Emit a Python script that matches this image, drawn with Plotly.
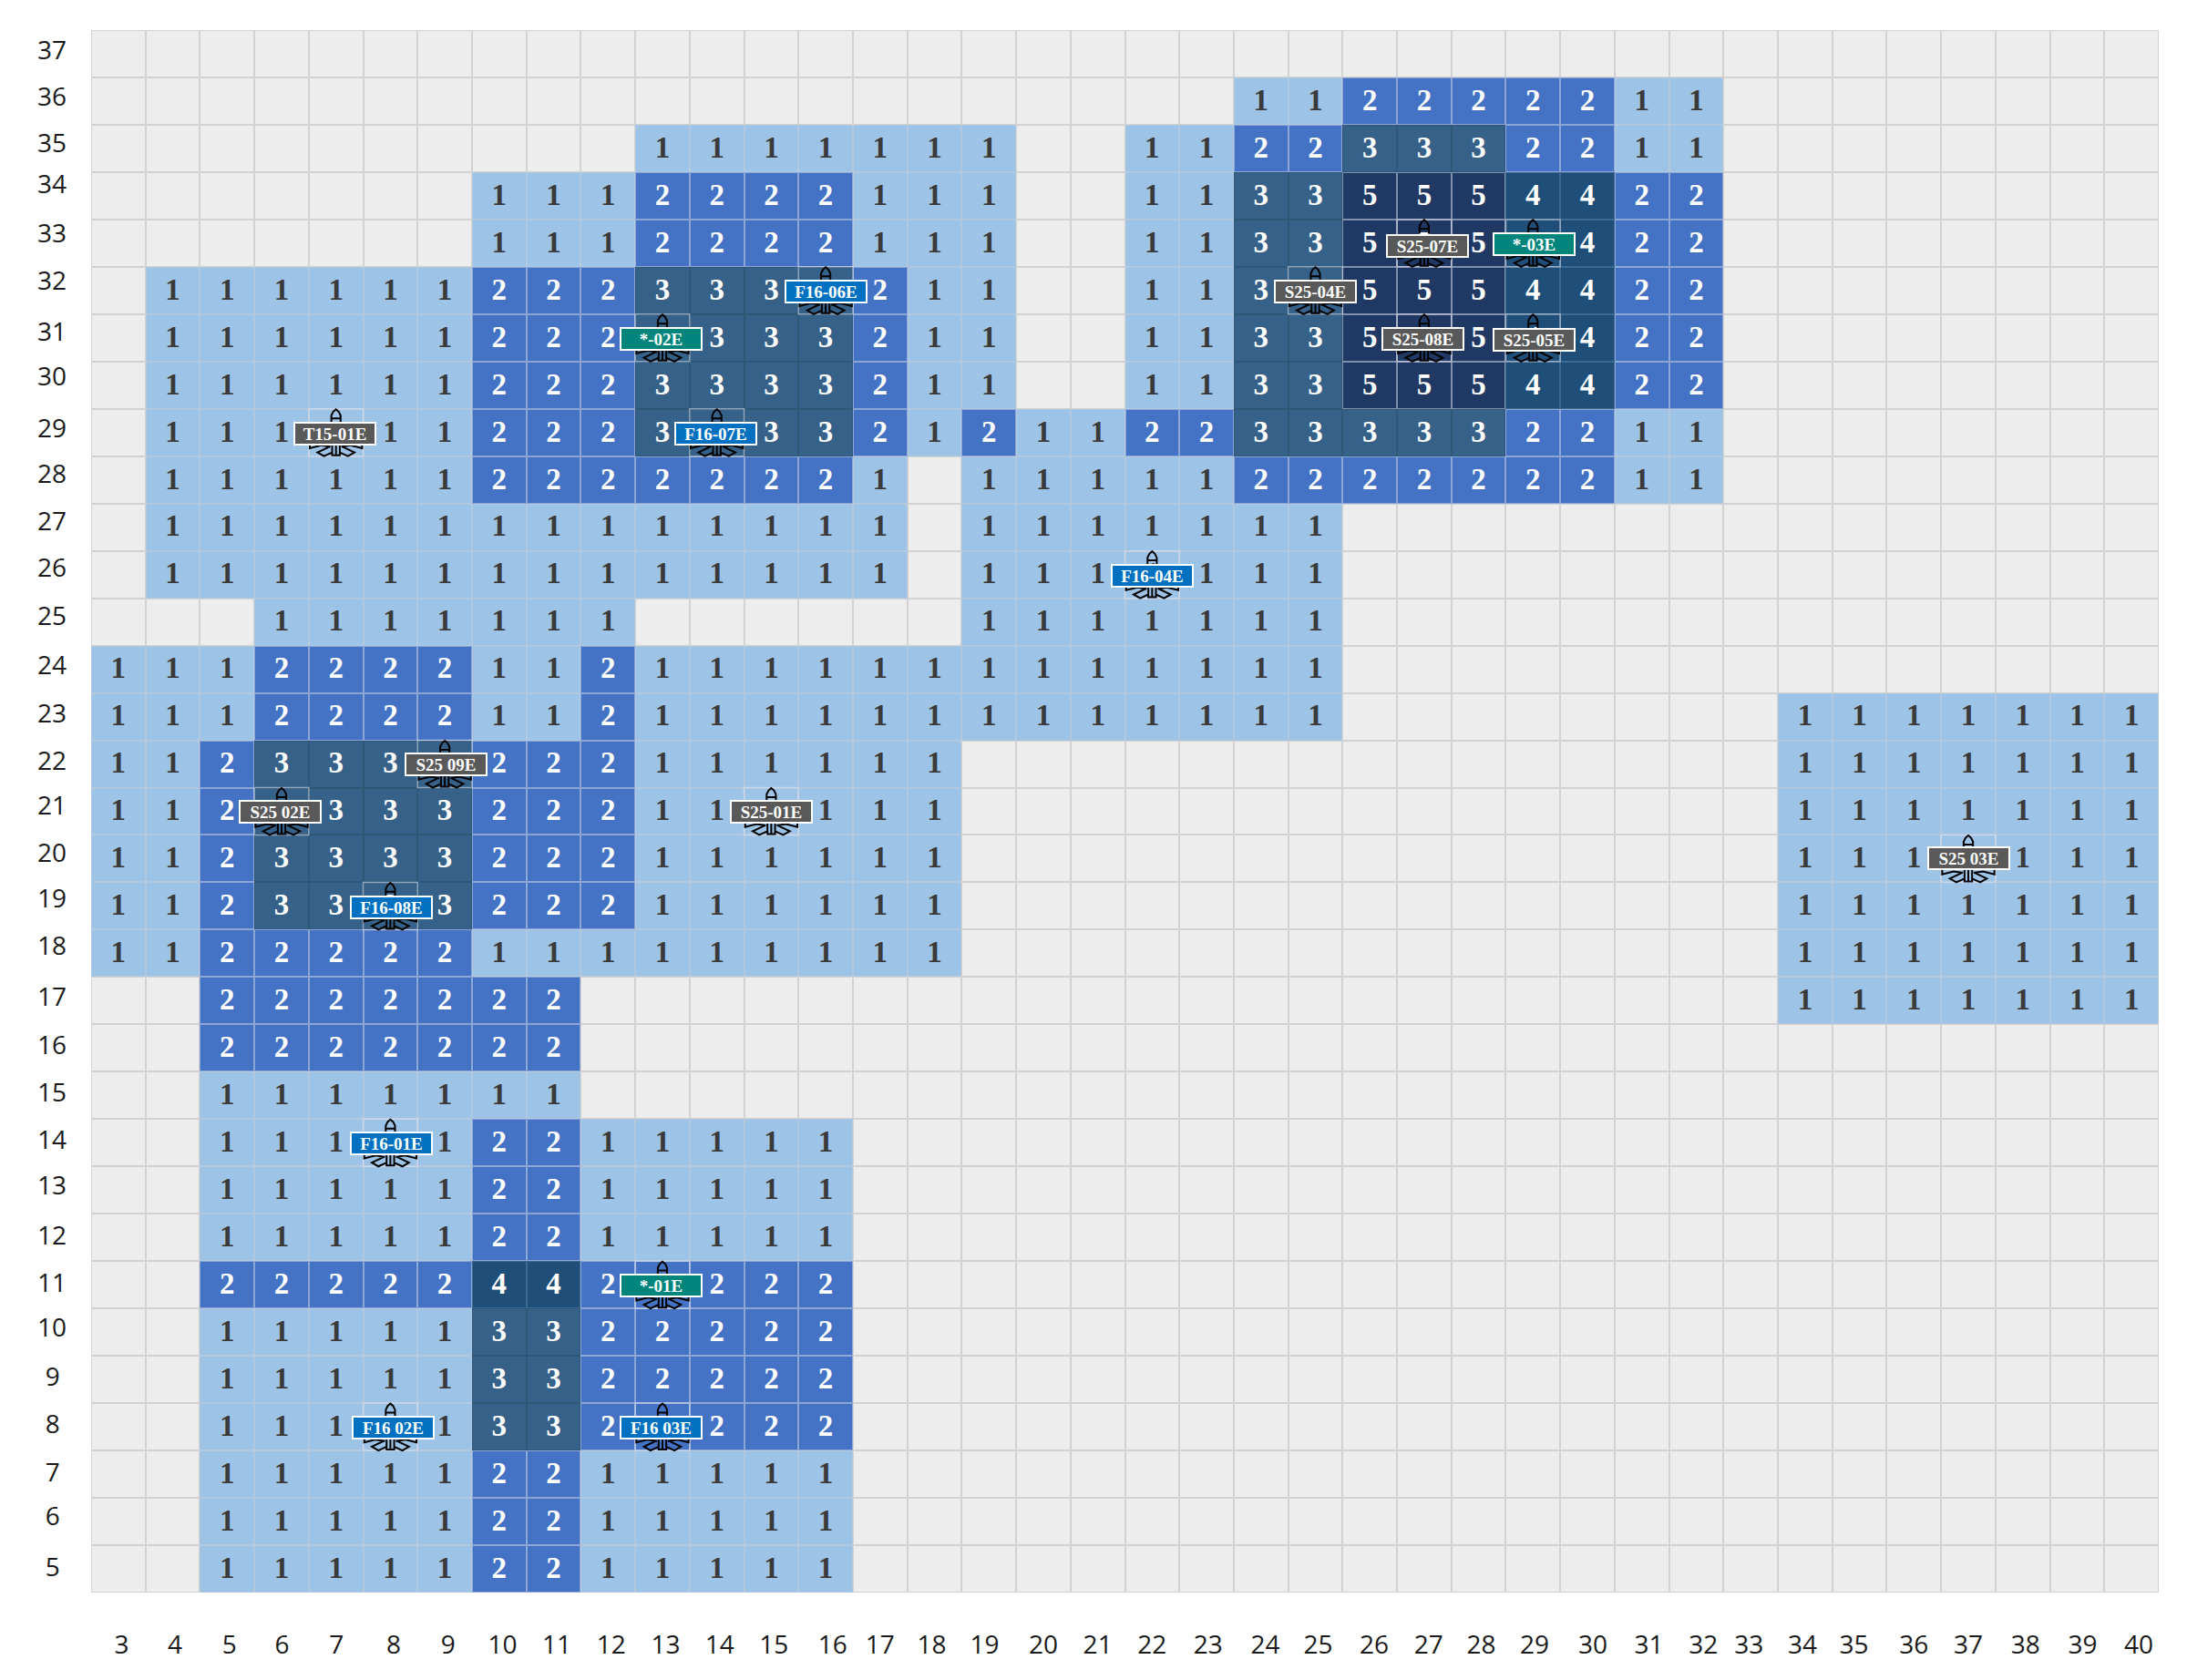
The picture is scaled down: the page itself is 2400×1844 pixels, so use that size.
import plotly.graph_objects as go

W, H = 2400, 1844
# the page body adds 8px around the figure
ML, MT = 92, 25
PLOT_W, PLOT_H = 2269, 1715
MR, MB = W - ML - PLOT_W, H - MT - PLOT_H

columns = list(range(3, 41))
rows = list(range(37, 4, -1))

# Tick label centres (they wander slightly from the cell centres)
x_tick_nudge = [.06, .04, .04, .01, .01, .06, .06, .06, .06, .06, .06, .05, .05, .13, 0, -.05, -.08, 0, 0, 0,
                .03, .08, .05, .08, .08, .05, .03, .1, .13, .13, -.03, -.05, -.1, 0, 0, .05, .1, .13]
y_tick_nudge = [.07, .09, .12, .24, .21, .21, .12, .18, .09, .12, .12, .15, .12, .09, .06, .06, .12, .12,
                .15, .15, .09, .06, .06, .06, .09, .03, .03, .09, .06, .06, .03, .12, .03]

# Runs per row: (first column, last column, value)
row_36 = [(24, 25, 1), (26, 30, 2), (31, 32, 1)]
row_35 = [(13, 19, 1), (22, 23, 1), (24, 25, 2), (26, 28, 3), (29, 30, 2), (31, 32, 1)]
row_34 = [(10, 12, 1), (13, 16, 2), (17, 19, 1), (22, 23, 1), (24, 25, 3), (26, 28, 5), (29, 30, 4), (31, 32, 2)]
row_33 = row_34
row_32 = [(4, 9, 1), (10, 12, 2), (13, 16, 3), (17, 17, 2), (18, 19, 1), (22, 23, 1), (24, 25, 3), (26, 28, 5),
          (29, 30, 4), (31, 32, 2)]
row_31 = row_32
row_30 = row_32
row_29 = [(4, 9, 1), (10, 12, 2), (13, 16, 3), (17, 17, 2), (18, 18, 1), (19, 19, 2), (20, 21, 1), (22, 23, 2),
          (24, 28, 3), (29, 30, 2), (31, 32, 1)]
row_28 = [(4, 9, 1), (10, 16, 2), (17, 17, 1), (19, 23, 1), (24, 30, 2), (31, 32, 1)]
row_27 = [(4, 17, 1), (19, 25, 1)]
row_26 = row_27
row_25 = [(6, 12, 1), (19, 25, 1)]
row_24 = [(3, 5, 1), (6, 9, 2), (10, 11, 1), (12, 12, 2), (13, 25, 1)]
row_23 = row_24 + [(34, 40, 1)]
row_22 = [(3, 4, 1), (5, 5, 2), (6, 9, 3), (10, 12, 2), (13, 18, 1), (34, 40, 1)]
row_21 = row_22
row_20 = row_22
row_19 = row_22
row_18 = [(3, 4, 1), (5, 9, 2), (10, 18, 1), (34, 40, 1)]
row_17 = [(5, 11, 2), (34, 40, 1)]
row_16 = [(5, 11, 2)]
row_15 = [(5, 11, 1)]
row_14 = [(5, 9, 1), (10, 11, 2), (12, 16, 1)]
row_13 = row_14
row_12 = row_14
row_11 = [(5, 9, 2), (10, 11, 4), (12, 16, 2)]
row_10 = [(5, 9, 1), (10, 11, 3), (12, 16, 2)]
row_9 = row_10
row_8 = row_10
row_7 = row_14
row_6 = row_14
row_5 = row_14

row_runs = [[], row_36, row_35, row_34, row_33, row_32, row_31, row_30, row_29, row_28, row_27, row_26, row_25,
            row_24, row_23, row_22, row_21, row_20, row_19, row_18, row_17, row_16, row_15, row_14, row_13, row_12,
            row_11, row_10, row_9, row_8, row_7, row_6, row_5]

# Unit labels: name, column, row, small nudge in px
label_names = ["T15-01E", "F16-06E", "*-02E", "F16-07E", "S25-07E", "*-03E", "S25-04E", "S25-08E",
               "S25-05E", "F16-04E", "S25 09E", "S25 02E", "S25-01E", "S25 03E", "F16-08E",
               "F16-01E", "*-01E", "F16 02E", "F16 03E"]
label_cols = [7, 16, 13, 14, 27, 29, 25, 27, 29, 22, 9, 6, 15, 37, 8, 8, 13, 8, 13]
label_rows = [29, 32, 31, 29, 33, 33, 32, 31, 31, 26, 22, 21, 21, 20, 19, 14, 11, 8, 8]
label_dx = [-1, 0, -1, -1, 4, 1, 0, -1, 1, 0, 1, -1, 0, 0, 1, 1, -1, 3, -1]
label_dy = [1, 1, 1, 1, 3, 1, 1, 1, 2, 1, 0, 0, 0, 0, 2, 1, 1, 1, 1]

cell_colors = ["#EDEDED", "#9DC3E6", "#4472C4", "#366189", "#1F4E79", "#1F3864"]
line_colors = ["#D2D2D2", "#B2C8DF", "#8CA6D8", "#2F5878", "#3D6A90", "#8090AC"]
kind_colors = {"T": "#595959", "S": "#595959", "F": "#0070C0", "*": "#00857C"}

z = []
for runs in row_runs:
    line = [0] * len(columns)
    for first, last, value in runs:
        for c in range(first, last + 1):
            line[c - columns[0]] = value
    z.append(line)


def stepped(colors):
    n = len(colors)
    out = []
    for i, c in enumerate(colors):
        out += [[i / n, c], [(i + 1) / n, c]]
    return out


fig = go.Figure()
for colors, gap in ((line_colors, 0), (cell_colors, 2)):
    fig.add_trace(go.Heatmap(x=columns, y=rows, z=z, zmin=0, zmax=6, showscale=False,
                             colorscale=stepped(colors), xgap=gap, ygap=gap, hoverinfo="skip"))

dark_x, dark_y, dark_t, light_x, light_y, light_t = [], [], [], [], [], []
for r, line in zip(rows, z):
    for c, v in zip(columns, line):
        if v == 1:
            dark_x.append(c); dark_y.append(r - .03); dark_t.append("1")
        elif v > 1:
            light_x.append(c); light_y.append(r - .03); light_t.append(str(v))
for xs, ys, ts, col in ((dark_x, dark_y, dark_t, "#3A3A3A"), (light_x, light_y, light_t, "#FFFFFF")):
    fig.add_trace(go.Scatter(x=xs, y=ys, text=ts, mode="text", hoverinfo="skip", showlegend=False,
                             textposition="middle center",
                             textfont=dict(family="Liberation Serif", size=33, color=col, weight="bold")))

# Aircraft icon outline, in fractions of a cell around its centre
icon_parts = [
    [(-.085, .2), (-.085, .36), (-.05, .44), (0, .49), (.05, .44), (.085, .36), (.085, .2)],
    [(-.085, .3), (.085, .3)],
    [(-.07, -.2), (-.07, -.48), (.07, -.48), (.07, -.2)],
    [(0, -.2), (0, -.48)],
    [(-.07, -.2), (-.48, -.2), (-.48, -.33), (-.27, -.27), (-.1, -.3)],
    [(.07, -.2), (.48, -.2), (.48, -.33), (.27, -.27), (.1, -.3)],
    [(-.12, -.3), (-.34, -.42), (-.22, -.5), (-.07, -.42)],
    [(.12, -.3), (.34, -.42), (.22, -.5), (.07, -.42)],
]
for name, c, r, dx, dy in zip(label_names, label_cols, label_rows, label_dx, label_dy):
    fig.add_shape(type="rect", x0=c - .5, x1=c + .5, y0=r - .5, y1=r + .5, xref="x", yref="y", layer="above",
                  line=dict(color="rgba(225,230,240,0.55)", width=1.5), fillcolor="rgba(0,0,0,0)")
    path = " ".join("M " + " L ".join(f"{c + ox},{r + oy}" for ox, oy in part) for part in icon_parts)
    fig.add_shape(type="path", path=path, xref="x", yref="y", layer="above",
                  line=dict(color="#000000", width=2), fillcolor="rgba(0,0,0,0)")
    fig.add_annotation(x=c, y=r, xref="x", yref="y", text=f"<b>{name}</b>", showarrow=False,
                       xshift=dx, yshift=-dy,
                       width=87, height=22, borderpad=0, borderwidth=2, bordercolor="#FFFFFF",
                       bgcolor=kind_colors[name[0]], align="center", valign="middle",
                       font=dict(family="Liberation Serif", size=19, color="#FFFFFF"))

fig.update_xaxes(range=[2.5, 40.5], tickmode="array",
                 tickvals=[c + n for c, n in zip(columns, x_tick_nudge)], ticktext=[str(c) for c in columns],
                 showgrid=False, zeroline=False, showline=False, ticks="", ticklabelstandoff=38,
                 tickfont=dict(family="Open Sans", size=28, color="#1A1A1A"), side="bottom")
fig.update_yaxes(range=[4.5, 37.5], tickmode="array",
                 tickvals=[r + n for r, n in zip(rows, y_tick_nudge)],
                 ticktext=[str(r) if r >= 10 else f"{r}\u00a0" for r in rows],
                 showgrid=False, zeroline=False, showline=False, ticks="", ticklabelstandoff=26,
                 tickfont=dict(family="Open Sans", size=28, color="#1A1A1A"))
fig.update_layout(width=W, height=H, margin=dict(l=ML, r=MR, t=MT, b=MB), autosize=False,
                  paper_bgcolor="#FFFFFF", plot_bgcolor="#FFFFFF", showlegend=False)
fig.write_html("out.html", config={"displayModeBar": False})
